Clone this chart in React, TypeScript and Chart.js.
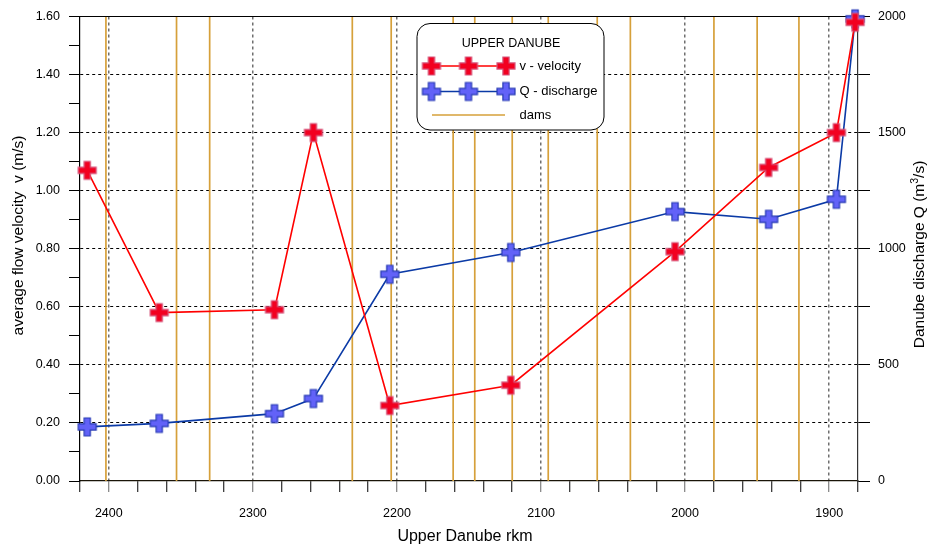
import React, { useEffect, useRef } from 'react';
import { Chart, registerables } from 'chart.js';

Chart.register(...registerables);

// River kilometres of the measuring sections (upstream -> downstream)
const rkm = [2415, 2365, 2285, 2258, 2205, 2121, 2007, 1942, 1895, 1882];
// Average flow velocity v (m/s)
const velocity = [1.07, 0.58, 0.59, 1.2, 0.26, 0.33, 0.79, 1.08, 1.2, 1.58];
// Discharge Q (m3/s)
const discharge = [233, 248, 290, 355, 890, 984, 1160, 1127, 1213, 1990];
// Dam locations (rkm)
const dams = [2402, 2353, 2330, 2231, 2204, 2161, 2146, 2120, 2095, 2061, 2038, 1980, 1950, 1921];

const legendTitle = 'UPPER DANUBE';
const seriesNames = ['v - velocity', 'Q - discharge', 'dams'];
const xTitle = 'Upper Danube rkm';
const yLeftTitle = 'average flow velocity  v (m/s)';
const yRightTitle = ['Danube discharge Q (m', '3', '/s)'];

const FONT = '"Liberation Sans", Arial, Helvetica, sans-serif';
const RED_LINE = '#ff0000';
const RED_FILL = 'rgb(242,0,32)';
const RED_EDGE = 'rgb(214,86,124)';
const BLUE_LINE = '#0b3aa6';
const BLUE_FILL = 'rgb(98,98,248)';
const BLUE_EDGE = 'rgb(38,58,178)';
const DAM = 'rgb(214,160,58)';

function makeCross(fill: string, stroke: string): HTMLCanvasElement {
  const size = 18;
  const arm = 6.2;
  const c = document.createElement('canvas');
  c.width = 22;
  c.height = 22;
  const g = c.getContext('2d')!;
  const m = 11;
  const h = size / 2;
  const a = arm / 2;
  g.beginPath();
  g.moveTo(m - a, m - h);
  g.lineTo(m + a, m - h);
  g.lineTo(m + a, m - a);
  g.lineTo(m + h, m - a);
  g.lineTo(m + h, m + a);
  g.lineTo(m + a, m + a);
  g.lineTo(m + a, m + h);
  g.lineTo(m - a, m + h);
  g.lineTo(m - a, m + a);
  g.lineTo(m - h, m + a);
  g.lineTo(m - h, m - a);
  g.lineTo(m - a, m - a);
  g.closePath();
  g.fillStyle = fill;
  g.fill();
  g.lineWidth = 1.2;
  g.strokeStyle = stroke;
  g.stroke();
  return c;
}

function roundRect(ctx: CanvasRenderingContext2D, x: number, y: number, w: number, h: number, r: number) {
  ctx.beginPath();
  ctx.moveTo(x + r, y);
  ctx.lineTo(x + w - r, y);
  ctx.arcTo(x + w, y, x + w, y + r, r);
  ctx.lineTo(x + w, y + h - r);
  ctx.arcTo(x + w, y + h, x + w - r, y + h, r);
  ctx.lineTo(x + r, y + h);
  ctx.arcTo(x, y + h, x, y + h - r, r);
  ctx.lineTo(x, y + r);
  ctx.arcTo(x, y, x + r, y, r);
  ctx.closePath();
}

export default function App() {
  const ref = useRef<HTMLCanvasElement | null>(null);

  useEffect(() => {
    if (!ref.current) return;
    const redCross = makeCross(RED_FILL, RED_EDGE);
    const blueCross = makeCross(BLUE_FILL, BLUE_EDGE);

    const decorations = {
      id: 'danubeDecorations',
      beforeDatasetsDraw(chart: any) {
        const { ctx, chartArea: a, scales } = chart;
        const xs = scales.x;
        ctx.save();
        ctx.strokeStyle = DAM;
        ctx.lineWidth = 1.7;
        dams.forEach((d) => {
          const px = xs.getPixelForValue(d);
          ctx.beginPath();
          ctx.moveTo(px, a.top);
          ctx.lineTo(px, a.bottom);
          ctx.stroke();
        });
        // solid frame line along the top of the plot
        ctx.strokeStyle = '#000';
        ctx.lineWidth = 1.2;
        ctx.beginPath();
        ctx.moveTo(a.left, a.top);
        ctx.lineTo(a.right, a.top);
        ctx.stroke();
        ctx.restore();
      },
      afterDatasetsDraw(chart: any) {
        const { ctx } = chart;
        ctx.save();
        // legend box
        roundRect(ctx, 417, 23.5, 187, 106.5, 13);
        ctx.fillStyle = '#fff';
        ctx.fill();
        ctx.strokeStyle = '#000';
        ctx.lineWidth = 1;
        ctx.stroke();

        ctx.fillStyle = '#000';
        ctx.textBaseline = 'middle';
        ctx.textAlign = 'center';
        ctx.font = `12.5px ${FONT}`;
        ctx.fillText(legendTitle, 511, 44);

        const rows = [
          { y: 66, line: RED_LINE, img: redCross },
          { y: 91.5, line: BLUE_LINE, img: blueCross },
        ];
        rows.forEach((r) => {
          ctx.strokeStyle = r.line;
          ctx.lineWidth = 1.6;
          ctx.beginPath();
          ctx.moveTo(426, r.y);
          ctx.lineTo(510, r.y);
          ctx.stroke();
          [431.5, 468.5, 506].forEach((mx) => {
            ctx.drawImage(r.img, mx - 11, r.y - 11);
          });
        });
        ctx.strokeStyle = DAM;
        ctx.lineWidth = 1.4;
        ctx.beginPath();
        ctx.moveTo(432, 115);
        ctx.lineTo(505, 115);
        ctx.stroke();

        ctx.textAlign = 'left';
        ctx.font = `13px ${FONT}`;
        ctx.fillStyle = '#000';
        ctx.fillText(seriesNames[0], 519.5, 66);
        ctx.fillText(seriesNames[1], 519.5, 91.5);
        ctx.fillText(seriesNames[2], 519.5, 115);
        ctx.restore();
      },
      afterDraw(chart: any) {
        const { ctx } = chart;
        ctx.save();
        ctx.fillStyle = '#000';
        ctx.font = `16px ${FONT}`;
        ctx.textAlign = 'center';
        ctx.textBaseline = 'alphabetic';
        ctx.fillText(xTitle, 465, 541);

        // left axis title
        ctx.save();
        ctx.translate(18.5, 235.5);
        ctx.rotate(-Math.PI / 2);
        ctx.textBaseline = 'middle';
        ctx.textAlign = 'center';
        ctx.font = `15.5px ${FONT}`;
        ctx.fillText(yLeftTitle, 0, 0);
        ctx.restore();

        // right axis title with superscript
        ctx.save();
        ctx.translate(920, 254.5);
        ctx.rotate(-Math.PI / 2);
        ctx.textBaseline = 'middle';
        ctx.textAlign = 'left';
        const big = `15.5px ${FONT}`;
        const small = `10.5px ${FONT}`;
        ctx.font = big;
        const w1 = ctx.measureText(yRightTitle[0]).width;
        const w3 = ctx.measureText(yRightTitle[2]).width;
        ctx.font = small;
        const w2 = ctx.measureText(yRightTitle[1]).width;
        let x0 = -(w1 + w2 + w3) / 2;
        ctx.font = big;
        ctx.fillText(yRightTitle[0], x0, 0);
        x0 += w1;
        ctx.font = small;
        ctx.fillText(yRightTitle[1], x0, -5);
        x0 += w2;
        ctx.font = big;
        ctx.fillText(yRightTitle[2], x0, 0);
        ctx.restore();

        ctx.restore();
      },
    };

    const tickFont = { family: FONT, size: 12.5 };

    const chart = new Chart(ref.current, {
      type: 'line',
      data: {
        datasets: [
          {
            label: seriesNames[0],
            data: rkm.map((x, i) => ({ x, y: velocity[i] })),
            yAxisID: 'y',
            borderColor: RED_LINE,
            borderWidth: 1.6,
            pointStyle: redCross,
            pointRadius: 9,
            pointHoverRadius: 9,
            clip: false,
          },
          {
            label: seriesNames[1],
            data: rkm.map((x, i) => ({ x, y: discharge[i] })),
            yAxisID: 'y1',
            borderColor: BLUE_LINE,
            borderWidth: 1.6,
            pointStyle: blueCross,
            pointRadius: 9,
            pointHoverRadius: 9,
            clip: false,
          },
        ],
      },
      options: {
        responsive: false,
        animation: false,
        devicePixelRatio: 1,
        layout: { padding: { top: 15, left: 0, right: 0, bottom: 0 } },
        plugins: { legend: { display: false }, title: { display: false }, tooltip: { enabled: false } },
        elements: { line: { tension: 0 } },
        scales: {
          x: {
            type: 'linear',
            reverse: true,
            min: 1880,
            max: 2420,
            afterFit: (s: any) => {
              s.height = 67;
            },
            ticks: {
              stepSize: 20,
              autoSkip: false,
              maxRotation: 0,
              minRotation: 0,
              padding: 14,
              color: '#000',
              font: tickFont,
              callback: (v: any) => (Math.round(v) % 100 === 0 ? String(Math.round(v)) : ''),
            },
            grid: {
              color: (c: any) => {
                const v = Math.round(c.tick ? c.tick.value : 0);
                return v % 100 === 0 && v > 1880 && v < 2420 ? '#6f6f6f' : 'rgba(0,0,0,0)';
              },
              lineWidth: 1.5,
              tickColor: (c: any) => {
                const v = Math.round(c.tick ? c.tick.value : 0);
                return v % 100 === 0 ? '#666' : '#000';
              },
              tickLength: 11,
              tickWidth: 1,
              tickBorderDash: [],
            },
            border: { display: true, color: '#1a1408', width: 1.2, dash: [3, 3] },
          },
          y: {
            type: 'linear',
            position: 'left',
            min: 0,
            max: 1.6,
            afterFit: (s: any) => {
              s.width = 80;
            },
            ticks: {
              stepSize: 0.1,
              autoSkip: false,
              padding: 9,
              color: '#000',
              font: tickFont,
              callback: (v: any) => {
                const k = Math.round(Number(v) * 10);
                return k % 2 === 0 ? (k / 10).toFixed(2) : '';
              },
            },
            grid: {
              color: (c: any) => {
                const k = Math.round((c.tick ? c.tick.value : 0) * 10);
                return k % 2 === 0 && k > 0 && k < 16 ? '#000' : 'rgba(0,0,0,0)';
              },
              lineWidth: 1,
              tickColor: '#000',
              tickLength: 11,
              tickWidth: 1,
              tickBorderDash: [],
            },
            border: { display: true, color: '#000', width: 1.2, dash: [3, 3] },
          },
          y1: {
            type: 'linear',
            position: 'right',
            min: 0,
            max: 2000,
            afterFit: (s: any) => {
              s.width = 71;
            },
            ticks: {
              stepSize: 250,
              autoSkip: false,
              padding: 8,
              color: '#000',
              font: tickFont,
              callback: (v: any) => (Math.round(v) % 500 === 0 ? String(Math.round(v)) : ''),
            },
            grid: {
              drawOnChartArea: false,
              tickColor: '#000',
              tickLength: 12,
              tickWidth: 1,
              tickBorderDash: [],
            },
            border: { display: true, color: '#333', width: 1.2 },
          },
        },
      },
      plugins: [decorations],
    } as any);

    return () => chart.destroy();
  }, []);

  return (
    <div style={{ position: 'fixed', left: 0, top: 0, width: 929, height: 548, background: '#fff' }}>
      <canvas ref={ref} width={929} height={548} style={{ display: 'block', width: 929, height: 548 }} />
    </div>
  );
}
